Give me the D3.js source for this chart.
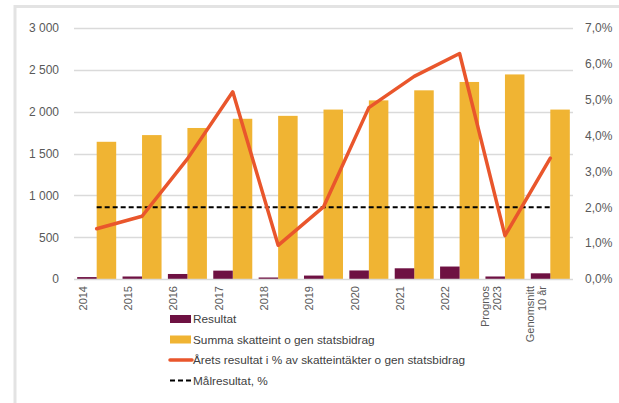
<!DOCTYPE html>
<html>
<head>
<meta charset="utf-8">
<script src="https://cdnjs.cloudflare.com/ajax/libs/d3/7.8.5/d3.min.js"></script>
<style>
  body { margin: 0; background: #fff; }
  svg { font-family: "Liberation Sans", Arial, sans-serif; }
</style>
</head>
<body>
<div id="chart"></div>
<script>
// data
var categories = ["2014", "2015", "2016", "2017", "2018", "2019", "2020", "2021", "2022", "Prognos 2023", "Genomsnitt 10 år"];
var catLabels = [["2014"], ["2015"], ["2016"], ["2017"], ["2018"], ["2019"], ["2020"], ["2021"], ["2022"], ["Prognos", "2023"], ["Genomsnitt", "10 år"]];
var resultat = [23, 30, 60, 100, 18, 41, 102, 128, 149, 30, 68];
var summa = [1640, 1720, 1805, 1915, 1950, 2025, 2135, 2255, 2355, 2445, 2025];
var procent = [1.4, 1.75, 3.35, 5.22, 0.94, 2.01, 4.78, 5.65, 6.29, 1.21, 3.37];
var malresultat = 2.0;
var leftTicks = [0, 500, 1000, 1500, 2000, 2500, 3000];
var rightTicks = [0, 1, 2, 3, 4, 5, 6, 7];
var legendNames = ["Resultat", "Summa skatteint o gen statsbidrag", "Årets resultat i % av skatteintäkter o gen statsbidrag", "Målresultat, %"];

var w = 619, h = 403;
var colResultat = "#6e1142", colSumma = "#f0b433", colLine = "#e9562c";

var svg = d3.select("#chart").append("svg")
  .attr("width", w)
  .attr("height", h);

//light frame around the chart//
svg.append("path")
  .attr("d", "M15," + h + "V6.5H" + w)
  .attr("fill", "none")
  .attr("stroke", "#e3e3e3")
  .attr("stroke-width", 3);

var x = d3.scaleBand()
  .domain(categories)
  .range([74, 573])
  .paddingInner(0.14)
  .paddingOuter(0.07);

var xSub = d3.scaleBand()
  .domain(["r", "s"])
  .range([0, x.bandwidth()]);

var y = d3.scaleLinear().domain([0, 3000]).range([279, 28]);
var y2 = d3.scaleLinear().domain([0, 7]).range([279, 28]);

//grid lines//
svg.append("g")
  .selectAll("line")
  .data(leftTicks.slice(1))
  .enter()
  .append("line")
  .attr("x1", 74)
  .attr("x2", 573)
  .attr("y1", function(d) { return Math.round(y(d)) + 0.5; })
  .attr("y2", function(d) { return Math.round(y(d)) + 0.5; })
  .attr("stroke", "#dadada")
  .attr("stroke-width", 1.3);

//left axis//
var fmt = function(d) { return d3.format(",")(d).replace(",", " "); };
var yAxis = d3.axisLeft(y).tickValues(leftTicks).tickFormat(fmt).tickSize(0).tickPadding(0);
var gy = svg.append("g").attr("transform", "translate(59,0)").call(yAxis);
gy.select(".domain").remove();
gy.selectAll("text").attr("fill", "#595959").attr("font-size", "12px").attr("font-family", "Liberation Sans, Arial, sans-serif");

//right axis//
var y2Axis = d3.axisRight(y2).tickValues(rightTicks)
  .tickFormat(function(d) { return d.toFixed(1).replace(".", ",") + "%"; })
  .tickSize(0).tickPadding(0);
var gy2 = svg.append("g").attr("transform", "translate(585,0)").call(y2Axis);
gy2.select(".domain").remove();
gy2.selectAll("text").attr("fill", "#595959").attr("font-size", "12px").attr("font-family", "Liberation Sans, Arial, sans-serif");

//bars//
svg.append("g")
  .selectAll("rect")
  .data(summa)
  .enter()
  .append("rect")
  .attr("x", function(d, i) { return x(categories[i]) + xSub("s"); })
  .attr("width", xSub.bandwidth())
  .attr("y", function(d) { return y(d); })
  .attr("height", function(d) { return y(0) - y(d); })
  .attr("fill", colSumma);

svg.append("g")
  .selectAll("rect")
  .data(resultat)
  .enter()
  .append("rect")
  .attr("x", function(d, i) { return x(categories[i]) + xSub("r"); })
  .attr("width", xSub.bandwidth())
  .attr("y", function(d) { return y(d); })
  .attr("height", function(d) { return y(0) - y(d); })
  .attr("fill", colResultat);

//category axis line//
svg.append("line")
  .attr("x1", 74).attr("x2", 573)
  .attr("y1", 279.5).attr("y2", 279.5)
  .attr("stroke", "#d9d9d9")
  .attr("stroke-width", 1.3);

var cx = function(i) { return x(categories[i]) + x.bandwidth() / 2; };

//target line//
svg.append("line")
  .attr("x1", cx(0))
  .attr("x2", cx(categories.length - 1))
  .attr("y1", y2(malresultat))
  .attr("y2", y2(malresultat))
  .attr("stroke", "#000")
  .attr("stroke-width", 2)
  .attr("stroke-dasharray", "5,3");

//percent line//
var line = d3.line()
  .x(function(d, i) { return cx(i); })
  .y(function(d) { return y2(d); });

svg.append("path")
  .datum(procent)
  .attr("d", line)
  .attr("fill", "none")
  .attr("stroke", colLine)
  .attr("stroke-width", 3.5)
  .attr("stroke-linejoin", "round")
  .attr("stroke-linecap", "round");

//category labels, rotated//
var labels = svg.append("g")
  .selectAll("text")
  .data(catLabels)
  .enter()
  .append("text")
  .attr("transform", function(d, i) { return "translate(" + (cx(i) - 14) + ",286) rotate(-90)"; })
  .attr("text-anchor", "end")
  .attr("font-size", "11px")
  .attr("fill", "#595959");

labels.each(function(d) {
  var t = d3.select(this);
  d.forEach(function(s, k) {
    t.append("tspan")
      .attr("x", 0)
      .attr("dy", k === 0 ? (0.35 - (d.length - 1) * 0.55) + "em" : "1.1em")
      .text(s);
  });
});

//legend//
var legend = svg.append("g").attr("font-size", "11.8px").attr("fill", "#404040");
var ly = [319, 339.5, 360, 380.5];

legend.append("rect").attr("x", 170).attr("y", ly[0] - 4).attr("width", 21).attr("height", 8).attr("fill", colResultat);
legend.append("rect").attr("x", 170).attr("y", ly[1] - 4).attr("width", 21).attr("height", 8).attr("fill", colSumma);
legend.append("line").attr("x1", 170).attr("x2", 192).attr("y1", ly[2]).attr("y2", ly[2])
  .attr("stroke", colLine).attr("stroke-width", 3.5).attr("stroke-linecap", "round");
legend.append("line").attr("x1", 170).attr("x2", 192).attr("y1", ly[3]).attr("y2", ly[3])
  .attr("stroke", "#000").attr("stroke-width", 2).attr("stroke-dasharray", "5,3");

legend.selectAll("text")
  .data(legendNames)
  .enter()
  .append("text")
  .attr("x", 193)
  .attr("y", function(d, i) { return ly[i]; })
  .attr("dy", "0.35em")
  .text(function(d) { return d; });
</script>
</body>
</html>
